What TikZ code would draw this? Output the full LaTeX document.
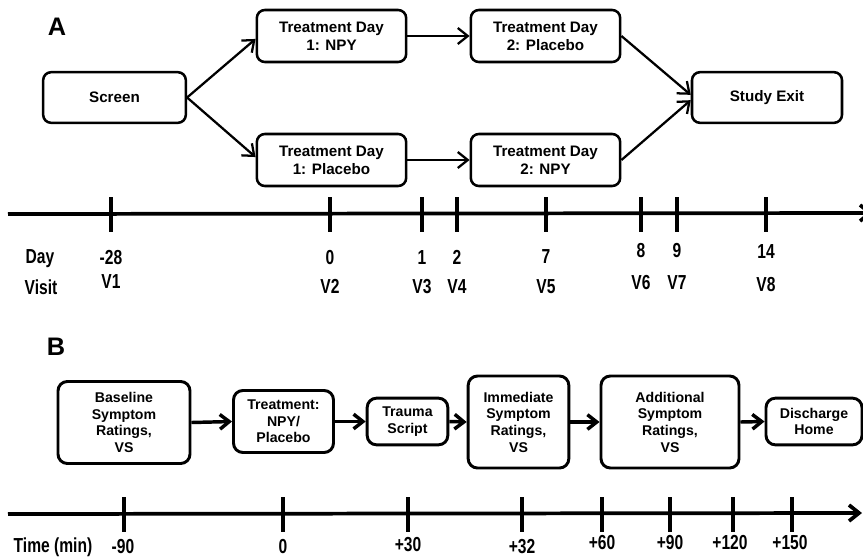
\documentclass[tikz,border=0pt]{standalone}
\usepackage{fontspec}
\setmainfont{Liberation Sans}
\usetikzlibrary{arrows.meta}
\newcommand{\vst}[1]{\scalebox{1}[1.3]{#1}}
\begin{document}
\begin{tikzpicture}[x=0.75pt,y=-0.75pt,
  boxa/.style={draw, line width=1.9pt, rounded corners=6pt, align=center, inner sep=0pt,
    font=\fontsize{11.4}{13.5}\selectfont\bfseries},
  boxb/.style={draw, line width=2.2pt, rounded corners=7pt, align=center, inner sep=0pt,
    font=\fontsize{10.6}{12.5}\selectfont\bfseries},
  arra/.style={line width=1.7pt, -{Straight Barb[length=7.5pt,width=12pt]}},
  arrb/.style={line width=2.6pt, -{Straight Barb[length=7pt,width=11pt]}},
  tline/.style={line width=2.8pt, -{Straight Barb[length=7.5pt,width=12pt]}},
  tickmark/.style={line width=2.5pt},
  tl/.style={font=\fontsize{11.7}{13}\selectfont\bfseries, inner sep=0pt, anchor=base},
  panel/.style={font=\fontsize{19}{22}\selectfont\bfseries, inner sep=0pt}
]
\useasboundingbox (0,0) rectangle (863,558);

% ---------- Panel A ----------
\node[panel] (labA) at (57,27) {A};
\node[boxa, minimum width=107pt, minimum height=38pt] (scr) at (114.5,97.5) {Screen};
\node[boxa, minimum width=112pt, minimum height=39pt] (t1a) at (331.5,36) {Treatment Day\\1: NPY};
\node[boxa, minimum width=112pt, minimum height=39pt] (t1b) at (331.5,160) {Treatment Day\\1: Placebo};
\node[boxa, minimum width=112pt, minimum height=39pt] (t2a) at (545.5,36) {Treatment Day\\2: Placebo};
\node[boxa, minimum width=112pt, minimum height=39pt] (t2b) at (545.5,160) {Treatment Day\\2: NPY};
\node[boxa, minimum width=112.5pt, minimum height=38pt] (ext) at (767,97.5) {Study Exit};

\draw[arra] (scr.east) -- ([yshift=-2.2pt]t1a.west);
\draw[arra] (scr.east) -- ([yshift=2.2pt]t1b.west);
\draw[arra] (t1a.east) -- (t2a.west);
\draw[arra] (t1b.east) -- (t2b.west);
\draw[arra] (t2a.east) -- ([yshift=2pt]ext.west);
\draw[arra] (t2b.east) -- ([yshift=-2pt]ext.west);

% timeline A
\coordinate (taS) at (8,214);
\coordinate (taE) at (873,213);
\draw[tline] (taS) -- (taE);
\foreach \n/\x in {1/111,2/330,3/422,4/457,5/546,6/641,7/677,8/766}{
  \coordinate (ta\n) at (\x,214);
  \draw[tickmark] (ta\n) ++(0,-17) -- ++(0,35);
}
\node[tl] (dayl) at (40,263) {\vst{Day}};
\node[tl] (d1) at (111,264) {\vst{-28}};
\node[tl] (d2) at (330,264) {\vst{0}};
\node[tl] (d3) at (422,264) {\vst{1}};
\node[tl] (d4) at (457,264) {\vst{2}};
\node[tl] (d5) at (546,263) {\vst{7}};
\node[tl] (d6) at (641,257) {\vst{8}};
\node[tl] (d7) at (677,257) {\vst{9}};
\node[tl] (d8) at (766,258) {\vst{14}};
\node[tl] (visl) at (41,294) {\vst{Visit}};
\node[tl] (v1) at (111,288) {\vst{V1}};
\node[tl] (v2) at (330,293) {\vst{V2}};
\node[tl] (v3) at (422,293) {\vst{V3}};
\node[tl] (v4) at (457,293) {\vst{V4}};
\node[tl] (v5) at (546,293) {\vst{V5}};
\node[tl] (v6) at (641,289) {\vst{V6}};
\node[tl] (v7) at (677,289) {\vst{V7}};
\node[tl] (v8) at (766,291) {\vst{V8}};

% ---------- Panel B ----------
\node[panel] (labB) at (56,347) {B};
\node[boxb, minimum width=99pt, minimum height=61.5pt] (base) at (124,422.5) {Baseline\\Symptom\\Ratings,\\VS};
\node[boxb, minimum width=75pt, minimum height=46.5pt] (treat) at (283.5,421.5) {Treatment:\\NPY/\\Placebo};
\node[boxb, minimum width=60.5pt, minimum height=35pt] (trau) at (407.5,421.5) {Trauma\\Script};
\node[boxb, minimum width=75.5pt, minimum height=69pt] (imm) at (518.5,422) {Immediate\\Symptom\\Ratings,\\VS};
\node[boxb, minimum width=103.5pt, minimum height=69pt] (add) at (670,422) {Additional\\Symptom\\Ratings,\\VS};
\node[boxb, minimum width=72pt, minimum height=35pt] (dis) at (814,421.5) {Discharge\\Home};

\draw[arrb] (base.east) -- (treat.west);
\draw[arrb] (treat.east) -- (trau.west);
\draw[arrb] (trau.east) -- (imm.west);
\draw[arrb] (imm.east) -- (add.west);
\draw[arrb] (add.east) -- (dis.west);

% timeline B
\coordinate (tbS) at (8,514);
\coordinate (tbE) at (862,513);
\draw[tline] (tbS) -- (tbE);
\foreach \n/\x in {1/124,2/283,3/408,4/522,5/602,6/670,7/733,8/792}{
  \coordinate (tb\n) at (\x,514);
  \draw[tickmark] (tb\n) ++(0,-17) -- ++(0,35);
}
\node[tl] (timel) at (53,552) {\vst{Time (min)}};
\node[tl] (m1) at (123,553) {\vst{-90}};
\node[tl] (m2) at (283,553) {\vst{0}};
\node[tl] (m3) at (408,551) {\vst{+30}};
\node[tl] (m4) at (522,553) {\vst{+32}};
\node[tl] (m5) at (602,549) {\vst{+60}};
\node[tl] (m6) at (670,549) {\vst{+90}};
\node[tl] (m7) at (730,549) {\vst{+120}};
\node[tl] (m8) at (790,549) {\vst{+150}};
\end{tikzpicture}
\end{document}
